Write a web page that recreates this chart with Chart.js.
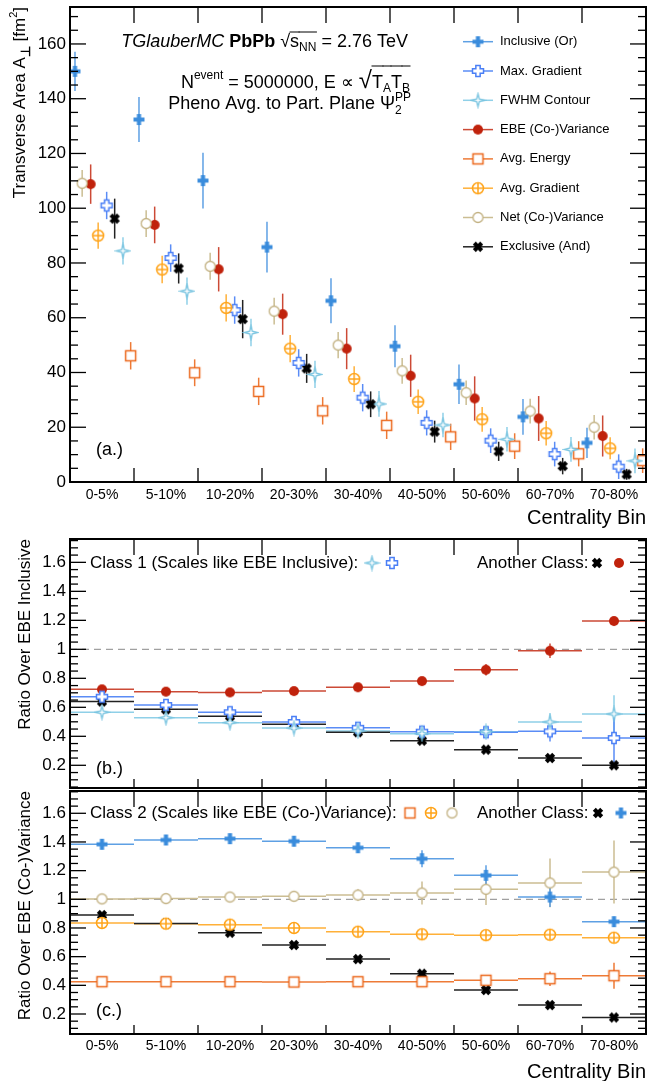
<!DOCTYPE html>
<html>
<head>
<meta charset="utf-8">
<title>Transverse area vs centrality</title>
<script src="https://cdn.jsdelivr.net/npm/chart.js@4.4.1/dist/chart.umd.min.js"></script>
<style>
  html, body { margin: 0; padding: 0; background: #fff; overflow: hidden; }
  body { width: 647px; height: 1081px; position: relative; }
  canvas { position: absolute; left: 0; }
  #areaChart { top: 0; }
  #inclRatioChart { top: 530px; }
  #varRatioChart { top: 789px; }
</style>
</head>
<body>
<canvas id="areaChart" width="647" height="532"></canvas>
<canvas id="inclRatioChart" width="647" height="260"></canvas>
<canvas id="varRatioChart" width="647" height="295"></canvas>
<script>
// centrality bins and tick labels
const BINS = ['0-5%', '5-10%', '10-20%', '20-30%', '30-40%', '40-50%', '50-60%', '60-70%', '70-80%'];
const AREA_TICKS = [0, 20, 40, 60, 80, 100, 120, 140, 160];
const RATIO_TICKS = [0.2, 0.4, 0.6, 0.8, 1, 1.2, 1.4, 1.6];

// (a.) transverse area [fm^2] and errors
const inclusiveArea = [150.0, 132.4, 110.1, 85.8, 66.2, 49.6, 35.7, 23.8, 14.3];
const inclusiveAreaErr = [7.2, 8.2, 10.2, 9.3, 8.2, 7.7, 7.2, 6.5, 5.5];
const maxGradArea = [101.0, 81.8, 62.8, 43.5, 30.8, 21.6, 15.1, 10.2, 5.6];
const maxGradAreaErr = [5.0, 5.0, 5.0, 5.0, 5.0, 4.6, 4.5, 4.5, 4.5];
const fwhmArea = [84.4, 69.7, 54.6, 39.3, 28.5, 20.8, 15.6, 11.9, 7.7];
const fwhmAreaErr = [5.0, 5.0, 5.0, 5.0, 4.7, 4.5, 4.5, 4.5, 4.5];
const ebeArea = [108.8, 93.9, 77.7, 61.3, 48.7, 38.8, 30.5, 23.2, 16.8];
const ebeAreaErr = [7.2, 6.7, 8.1, 7.5, 7.5, 7.7, 8.1, 8.2, 7.5];
const avgEnergyArea = [46.1, 39.9, 33.1, 26.0, 20.7, 16.5, 13.1, 10.3, 7.8];
const avgEnergyAreaErr = [5.0, 4.9, 5.0, 5.0, 5.0, 4.8, 4.7, 4.6, 4.5];
const avgGradArea = [90.0, 77.6, 63.6, 48.7, 37.6, 29.3, 22.9, 17.8, 12.3];
const avgGradAreaErr = [4.8, 5.0, 5.0, 5.0, 4.7, 4.5, 4.5, 4.5, 4.0];
const netArea = [109.1, 94.4, 78.8, 62.4, 50.0, 40.6, 32.6, 25.9, 20.0];
const netAreaErr = [4.9, 4.9, 4.9, 4.9, 4.8, 4.7, 4.5, 4.5, 4.5];
const exclusiveArea = [96.2, 78.0, 59.5, 41.5, 28.4, 18.4, 11.2, 5.8, 2.8];
const exclusiveAreaErr = [7.3, 5.5, 7.0, 5.3, 4.7, 4.0, 3.5, 3.0, 2.0];

// (b.) ratio over EBE inclusive
const ebeOverIncl = [0.724, 0.708, 0.703, 0.712, 0.738, 0.781, 0.859, 0.990, 1.195];
const ebeOverInclErr = [0.015, 0.015, 0.015, 0.015, 0.015, 0.02, 0.04, 0.05, 0.03];
const exclusiveOverIncl = [0.640, 0.586, 0.538, 0.483, 0.428, 0.370, 0.308, 0.250, 0.200];
const exclusiveOverInclErr = [0.02, 0.02, 0.02, 0.015, 0.015, 0.015, 0.015, 0.015, 0.015];
const fwhmOverIncl = [0.566, 0.528, 0.494, 0.457, 0.437, 0.418, 0.432, 0.499, 0.554];
const fwhmOverInclErr = [0.015, 0.015, 0.015, 0.015, 0.02, 0.02, 0.03, 0.06, 0.13];
const maxGradOverIncl = [0.673, 0.616, 0.566, 0.499, 0.459, 0.432, 0.428, 0.434, 0.388];
const maxGradOverInclErr = [0.015, 0.015, 0.02, 0.02, 0.02, 0.02, 0.03, 0.07, 0.17];

// (c.) ratio over EBE (co-)variance
const inclOverVar = [1.384, 1.414, 1.423, 1.405, 1.360, 1.283, 1.167, 1.016, 0.844];
const inclOverVarErr = [0.015, 0.015, 0.015, 0.015, 0.03, 0.06, 0.07, 0.07, 0.02];
const netOverVar = [1.003, 1.005, 1.016, 1.021, 1.030, 1.044, 1.070, 1.114, 1.190];
const netOverVarErr = [0.01, 0.015, 0.03, 0.03, 0.04, 0.08, 0.11, 0.17, 0.22];
const exclusiveOverVar = [0.890, 0.832, 0.767, 0.681, 0.583, 0.481, 0.367, 0.262, 0.176];
const exclusiveOverVarErr = [0.015, 0.015, 0.015, 0.015, 0.015, 0.015, 0.015, 0.015, 0.015];
const avgGradOverVar = [0.835, 0.830, 0.823, 0.800, 0.774, 0.756, 0.750, 0.753, 0.732];
const avgGradOverVarErr = [0.01, 0.01, 0.015, 0.015, 0.02, 0.02, 0.02, 0.03, 0.03];
const avgEnergyOverVar = [0.425, 0.425, 0.425, 0.423, 0.425, 0.425, 0.435, 0.446, 0.467];
const avgEnergyOverVarErr = [0.01, 0.01, 0.01, 0.01, 0.015, 0.02, 0.03, 0.05, 0.09];

const FONT = '"Liberation Sans", Arial, Helvetica, sans-serif';
Chart.defaults.font.family = FONT;
Chart.defaults.color = '#000';

const STYLE = {
  inclusive: { label: 'Inclusive (Or)', color: '#3a8cdc', line: '#5ea0e4', shape: 'fullCross', size: 11 },
  maxGrad: { label: 'Max. Gradient', color: '#4a7ff6', line: '#5a8cf6', shape: 'openCross', size: 12 },
  fwhm: { label: 'FWHM Contour', color: '#78c4e0', line: '#8fd0e8', shape: 'openStar', size: 13 },
  ebe: { label: 'EBE (Co-)Variance', color: '#c0220c', line: '#cc4a36', shape: 'fullCircle', size: 10 },
  avgEnergy: { label: 'Avg. Energy', color: '#ec681c', line: '#ee7a36', shape: 'openSquare', size: 11 },
  avgGrad: { label: 'Avg. Gradient', color: '#ffa41a', line: '#ffb038', shape: 'circlePlus', size: 12 },
  net: { label: 'Net (Co-)Variance', color: '#c3b283', line: '#cbbd92', shape: 'openCircle', size: 11 },
  exclusive: { label: 'Exclusive (And)', color: '#000000', line: '#222222', shape: 'fullX', size: 10 },
};

// where each series sits inside a bin in panel (a.)
const AREA_OFFSET = { inclusive: 0.078, net: 0.19, ebe: 0.323, avgGrad: 0.44, maxGrad: 0.573, exclusive: 0.698, fwhm: 0.828, avgEnergy: 0.948 };
const LEGEND_ORDER = ['inclusive', 'maxGrad', 'fwhm', 'ebe', 'avgEnergy', 'avgGrad', 'net', 'exclusive'];

function crossPath(g, r, t) {
  g.beginPath();
  g.moveTo(-t, -r); g.lineTo(t, -r); g.lineTo(t, -t); g.lineTo(r, -t); g.lineTo(r, t); g.lineTo(t, t);
  g.lineTo(t, r); g.lineTo(-t, r); g.lineTo(-t, t); g.lineTo(-r, t); g.lineTo(-r, -t); g.lineTo(-t, -t);
  g.closePath();
}

// ROOT-like marker drawn into a small canvas, used as the pointStyle
function markerImage(shape, color, size) {
  const c = document.createElement('canvas');
  const s = size + 4;
  c.width = s; c.height = s;
  const g = c.getContext('2d');
  g.translate(s / 2, s / 2);
  const r = size / 2;
  g.strokeStyle = color; g.fillStyle = color; g.lineWidth = 1.5;
  if (shape === 'fullCross') {
    crossPath(g, r, r * 0.38); g.fill();
  } else if (shape === 'openCross') {
    crossPath(g, r - 0.5, r * 0.36); g.fillStyle = '#fff'; g.fill(); g.stroke();
  } else if (shape === 'openStar') {
    const a = r * 0.2;
    g.beginPath();
    g.moveTo(0, -r); g.lineTo(a, -a); g.lineTo(r, 0); g.lineTo(a, a);
    g.lineTo(0, r); g.lineTo(-a, a); g.lineTo(-r, 0); g.lineTo(-a, -a); g.closePath();
    g.fillStyle = '#fff'; g.fill(); g.lineWidth = 1.3; g.stroke();
  } else if (shape === 'fullCircle') {
    g.beginPath(); g.arc(0, 0, r, 0, Math.PI * 2); g.fill();
  } else if (shape === 'openSquare') {
    g.fillStyle = '#fff'; g.fillRect(-r + 0.5, -r + 0.5, size - 1, size - 1); g.strokeRect(-r + 0.5, -r + 0.5, size - 1, size - 1);
  } else if (shape === 'circlePlus') {
    g.beginPath(); g.arc(0, 0, r - 0.5, 0, Math.PI * 2); g.fillStyle = '#fff'; g.fill(); g.stroke();
    g.beginPath(); g.moveTo(-r + 0.5, 0); g.lineTo(r - 0.5, 0); g.moveTo(0, -r + 0.5); g.lineTo(0, r - 0.5); g.stroke();
  } else if (shape === 'openCircle') {
    g.beginPath(); g.arc(0, 0, r - 0.5, 0, Math.PI * 2); g.fillStyle = '#fff'; g.fill(); g.lineWidth = 1.3; g.stroke();
  } else if (shape === 'fullX') {
    g.rotate(Math.PI / 4); crossPath(g, r * 1.05, r * 0.42); g.fill();
  }
  return c;
}

function makeDataset(key, values, errors, offset, binLines) {
  const s = STYLE[key];
  return {
    key, label: s.label,
    data: values.map((v, i) => ({ x: i + offset, y: v })),
    errors, binLines,
    lineColor: s.line,
    pointStyle: markerImage(s.shape, s.color, s.size),
    pointRadius: s.size / 2 + 1,
    showLine: false,
  };
}

// error bars (and bin-wide lines for the ratio panels), under the markers
const errorBars = {
  id: 'errorBars',
  beforeDatasetsDraw(chart) {
    const { ctx, chartArea: a, scales: { x, y } } = chart;
    ctx.save();
    ctx.beginPath(); ctx.rect(a.left, a.top, a.width, a.height); ctx.clip();
    if (chart.config.options.unityLine) {
      const py = y.getPixelForValue(1);
      ctx.strokeStyle = '#a0a0a0'; ctx.lineWidth = 1.3; ctx.setLineDash([7, 5]);
      ctx.beginPath(); ctx.moveTo(a.left, py); ctx.lineTo(a.right, py); ctx.stroke();
      ctx.setLineDash([]);
    }
    chart.data.datasets.forEach(ds => {
      ctx.strokeStyle = ds.lineColor; ctx.lineWidth = 1.5;
      ds.data.forEach((p, i) => {
        const px = x.getPixelForValue(p.x);
        const py = y.getPixelForValue(p.y);
        ctx.beginPath();
        ctx.moveTo(px, y.getPixelForValue(p.y - ds.errors[i]));
        ctx.lineTo(px, y.getPixelForValue(p.y + ds.errors[i]));
        if (ds.binLines) {
          const b = Math.floor(p.x);
          ctx.moveTo(x.getPixelForValue(b), py);
          ctx.lineTo(x.getPixelForValue(b + 1), py);
        }
        ctx.stroke();
      });
    });
    ctx.restore();
  }
};

// ROOT style frame with inward ticks on all four sides
function makeFrame(cfg) {
  return {
    id: 'frame',
    afterDatasetsDraw(chart) {
      const { ctx, chartArea: a, scales: { x, y } } = chart;
      ctx.save();
      ctx.strokeStyle = '#000'; ctx.lineWidth = 1.3;
      const seg = (x1, y1, x2, y2) => { ctx.beginPath(); ctx.moveTo(x1, y1); ctx.lineTo(x2, y2); ctx.stroke(); };
      for (let b = 1; b < BINS.length; b++) {
        const px = x.getPixelForValue(b);
        seg(px, a.bottom, px, a.bottom - cfg.xBottom);
        seg(px, a.top, px, a.top + cfg.xTop);
      }
      const k0 = Math.ceil(y.min / cfg.minor - 1e-6), k1 = Math.floor(y.max / cfg.minor + 1e-6);
      const per = Math.round(cfg.major / cfg.minor);
      for (let k = k0; k <= k1; k++) {
        const py = y.getPixelForValue(k * cfg.minor);
        const len = k % per === 0 ? 16 : 8;
        seg(a.left, py, a.left + len, py);
        seg(a.right, py, a.right - len, py);
      }
      ctx.lineWidth = 2;
      ctx.strokeRect(a.left, a.top, a.width, a.height);
      ctx.restore();
    }
  };
}

// text made of pieces with sub/superscripts and radical overlines, right aligned at xRight
function drawRich(ctx, segs, xRight, baseline) {
  const fontOf = s => `${s.style || ''} ${s.size || 18}px ${FONT}`;
  let x = 0, prevX = 0, prevW = 0;
  const placed = [];
  segs.forEach(s => {
    ctx.font = fontOf(s);
    const w = ctx.measureText(s.t).width;
    if (s.stack) { placed.push({ s, x: prevX, w }); x = prevX + Math.max(prevW, w); }
    else { placed.push({ s, x, w }); prevX = x; prevW = w; x += w; }
  });
  const x0 = xRight - x;
  ctx.textAlign = 'left'; ctx.textBaseline = 'alphabetic';
  placed.forEach(p => {
    ctx.font = fontOf(p.s);
    ctx.fillText(p.s.t, x0 + p.x, baseline + (p.s.dy || 0));
    if (p.s.over) {
      ctx.lineWidth = 1; ctx.strokeStyle = '#000';
      ctx.beginPath(); ctx.moveTo(x0 + p.x - 0.5, baseline - p.s.over); ctx.lineTo(x0 + p.x + p.w + 0.5, baseline - p.s.over); ctx.stroke();
    }
  });
}

function xScaleOpts(show, height, pad, titlePad) {
  return {
    type: 'linear', min: 0, max: BINS.length, display: show,
    afterBuildTicks: s => { s.ticks = BINS.map((_, i) => ({ value: i + 0.5 })); },
    afterFit: s => { s.height = height; s.paddingLeft = 0; s.paddingRight = 0; },
    grid: { display: false, drawTicks: false }, border: { display: false },
    ticks: { autoSkip: false, maxRotation: 0, padding: pad, font: { size: 14 }, callback: (v, i) => BINS[i] },
    title: { display: true, text: 'Centrality Bin', align: 'end', font: { size: 20 }, padding: { top: 0, bottom: titlePad } },
  };
}

function yScaleOpts(min, max, ticks, fmt, title) {
  return {
    type: 'linear', min, max,
    afterBuildTicks: s => { s.ticks = ticks.map(v => ({ value: v })); },
    afterFit: s => { s.width = 70; s.paddingTop = 0; s.paddingBottom = 0; },
    grid: { display: false, drawTicks: false }, border: { display: false },
    ticks: { autoSkip: false, padding: 4, font: { size: 17 }, callback: fmt },
    title: title ? { display: true, text: title, align: 'end', font: { size: 17 }, padding: { top: 15, bottom: 0 } } : { display: false },
  };
}

const ratioFmt = v => (v === 1 ? '1' : v.toFixed(1));
const baseOpts = {
  responsive: false, animation: false, events: [],
  plugins: { legend: { display: false }, tooltip: { enabled: false } },
};

// ---------- panel (a.)
const areaSets = [
  makeDataset('inclusive', inclusiveArea, inclusiveAreaErr, AREA_OFFSET.inclusive),
  makeDataset('net', netArea, netAreaErr, AREA_OFFSET.net),
  makeDataset('ebe', ebeArea, ebeAreaErr, AREA_OFFSET.ebe),
  makeDataset('avgGrad', avgGradArea, avgGradAreaErr, AREA_OFFSET.avgGrad),
  makeDataset('maxGrad', maxGradArea, maxGradAreaErr, AREA_OFFSET.maxGrad),
  makeDataset('exclusive', exclusiveArea, exclusiveAreaErr, AREA_OFFSET.exclusive),
  makeDataset('fwhm', fwhmArea, fwhmAreaErr, AREA_OFFSET.fwhm),
  makeDataset('avgEnergy', avgEnergyArea, avgEnergyAreaErr, AREA_OFFSET.avgEnergy),
];

const areaNotes = {
  id: 'areaNotes',
  afterDraw(chart) {
    const ctx = chart.ctx;
    ctx.save();
    ctx.fillStyle = '#000';
    drawRich(ctx, [
      { t: 'TGlauberMC', style: 'italic' }, { t: ' ' }, { t: 'PbPb', style: 'bold' }, { t: ' \u221A' },
      { t: 's', over: 15 }, { t: 'NN', size: 12, dy: 4, over: 15 }, { t: ' = 2.76 TeV' },
    ], 408, 47);
    drawRich(ctx, [
      { t: 'N' }, { t: 'event', size: 12, dy: -9 }, { t: ' = 5000000, E \u221D ' }, { t: '\u221A', size: 24 },
      { t: 'T', over: 22 }, { t: 'A', size: 12, dy: 4, over: 22 }, { t: 'T', over: 22 }, { t: 'B', size: 12, dy: 4, over: 22 },
    ], 410, 88);
    drawRich(ctx, [
      { t: 'Pheno Avg. to Part. Plane \u03A8' }, { t: '2', size: 12, dy: 5 }, { t: 'PP', size: 12, dy: -8, stack: true },
    ], 411, 108.5);

    // legend
    ctx.font = `13px ${FONT}`; ctx.textBaseline = 'middle'; ctx.textAlign = 'left';
    LEGEND_ORDER.forEach((key, i) => {
      const ds = chart.data.datasets.find(d => d.key === key);
      const yy = 41.7 + 29.3 * i;
      ctx.strokeStyle = ds.lineColor; ctx.lineWidth = 1.5;
      ctx.beginPath(); ctx.moveTo(463, yy); ctx.lineTo(493, yy); ctx.stroke();
      const img = ds.pointStyle;
      ctx.drawImage(img, 478 - img.width / 2, yy - img.height / 2);
      ctx.fillText(ds.label, 500, yy);
    });

    ctx.font = `18px ${FONT}`;
    ctx.fillText('(a.)', 96, 450);

    // rotated y title with A_perp and fm^2
    ctx.translate(25, 7);
    ctx.rotate(-Math.PI / 2);
    drawRich(ctx, [
      { t: 'Transverse Area A', size: 17 }, { t: '\u22A5', size: 13, style: 'bold', dy: 5 },
      { t: ' [fm', size: 17 }, { t: '2', size: 11, dy: -8 }, { t: ']', size: 17 },
    ], 0, 0);
    ctx.restore();
  }
};

new Chart(document.getElementById('areaChart'), {
  type: 'scatter',
  data: { datasets: areaSets },
  options: {
    ...baseOpts,
    layout: { autoPadding: false, padding: { top: 7, right: 1, left: 0, bottom: 0 } },
    scales: {
      x: xScaleOpts(true, 50, 5, 2),
      y: yScaleOpts(0, 173.5, AREA_TICKS, v => String(v), null),
    },
  },
  plugins: [errorBars, makeFrame({ xTop: 16, xBottom: 14, minor: 5, major: 20 }), areaNotes],
});

// ---------- panel (b.)
const inclSets = [
  makeDataset('fwhm', fwhmOverIncl, fwhmOverInclErr, 0.5, true),
  makeDataset('maxGrad', maxGradOverIncl, maxGradOverInclErr, 0.5, true),
  makeDataset('exclusive', exclusiveOverIncl, exclusiveOverInclErr, 0.5, true),
  makeDataset('ebe', ebeOverIncl, ebeOverInclErr, 0.5, true),
];

function markerOf(chart, key) {
  return chart.data.datasets.find(d => d.key === key).pointStyle;
}
function putMarker(ctx, img, x, y) {
  ctx.drawImage(img, x - img.width / 2, y - img.height / 2);
}

const inclNotes = {
  id: 'inclNotes',
  afterDraw(chart) {
    const ctx = chart.ctx;
    ctx.save();
    ctx.fillStyle = '#000'; ctx.textBaseline = 'middle'; ctx.textAlign = 'left';
    ctx.font = `17px ${FONT}`;
    ctx.fillText('Class 1 (Scales like EBE Inclusive):', 90, 33);
    putMarker(ctx, markerOf(chart, 'fwhm'), 372, 33);
    putMarker(ctx, markerOf(chart, 'maxGrad'), 392, 33);
    ctx.fillText('Another Class:', 477, 33);
    putMarker(ctx, markerOf(chart, 'exclusive'), 597, 33);
    putMarker(ctx, markerOf(chart, 'ebe'), 619, 33);
    ctx.font = `18px ${FONT}`;
    ctx.fillText('(b.)', 96, 239);
    ctx.restore();
  }
};

new Chart(document.getElementById('inclRatioChart'), {
  type: 'scatter',
  data: { datasets: inclSets },
  options: {
    ...baseOpts,
    unityLine: true,
    layout: { autoPadding: false, padding: { top: 9, right: 1, left: 0, bottom: 2 } },
    scales: {
      x: xScaleOpts(false, 0, 0, 0),
      y: yScaleOpts(0.0434, 1.761, RATIO_TICKS, ratioFmt, 'Ratio Over EBE Inclusive'),
    },
  },
  plugins: [errorBars, makeFrame({ xTop: 16, xBottom: 9, minor: 0.05, major: 0.2 }), inclNotes],
});

// ---------- panel (c.)
const varSets = [
  makeDataset('avgEnergy', avgEnergyOverVar, avgEnergyOverVarErr, 0.5, true),
  makeDataset('avgGrad', avgGradOverVar, avgGradOverVarErr, 0.5, true),
  makeDataset('net', netOverVar, netOverVarErr, 0.5, true),
  makeDataset('inclusive', inclOverVar, inclOverVarErr, 0.5, true),
  makeDataset('exclusive', exclusiveOverVar, exclusiveOverVarErr, 0.5, true),
];

const varNotes = {
  id: 'varNotes',
  afterDraw(chart) {
    const ctx = chart.ctx;
    ctx.save();
    ctx.fillStyle = '#000'; ctx.textBaseline = 'middle'; ctx.textAlign = 'left';
    ctx.font = `17px ${FONT}`;
    ctx.fillText('Class 2 (Scales like EBE (Co-)Variance):', 90, 24);
    putMarker(ctx, markerOf(chart, 'avgEnergy'), 410, 24);
    putMarker(ctx, markerOf(chart, 'avgGrad'), 431, 24);
    putMarker(ctx, markerOf(chart, 'net'), 452, 24);
    ctx.fillText('Another Class:', 477, 24);
    putMarker(ctx, markerOf(chart, 'exclusive'), 598, 24);
    putMarker(ctx, markerOf(chart, 'inclusive'), 621, 24);
    ctx.font = `18px ${FONT}`;
    ctx.fillText('(c.)', 96, 222);
    ctx.restore();
  }
};

new Chart(document.getElementById('varRatioChart'), {
  type: 'scatter',
  data: { datasets: varSets },
  options: {
    ...baseOpts,
    unityLine: true,
    layout: { autoPadding: false, padding: { top: 2, right: 1, left: 0, bottom: 0 } },
    scales: {
      x: xScaleOpts(true, 50, 4, 0),
      y: yScaleOpts(0.0605, 1.7555, RATIO_TICKS, ratioFmt, 'Ratio Over EBE (Co-)Variance'),
    },
  },
  plugins: [errorBars, makeFrame({ xTop: 16, xBottom: 9, minor: 0.05, major: 0.2 }), varNotes],
});
</script>
</body>
</html>
